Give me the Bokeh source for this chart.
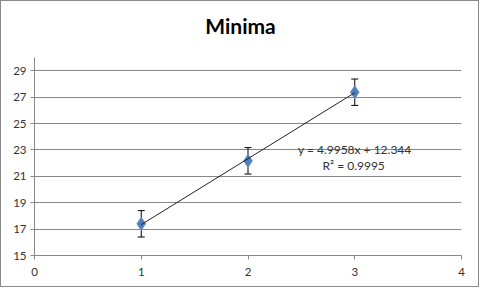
from bokeh.plotting import figure
from bokeh.models import Range1d, FixedTicker, Whisker, ColumnDataSource, Label, TeeHead
from bokeh.embed import file_html
from bokeh.resources import INLINE

# Data
x_vals = [1, 2, 3]
y_vals = [17.4, 22.17, 27.37]
y_err = [1.0, 1.0, 1.0]
slope = 4.9958
intercept = 12.344
x_ticks = [0, 1, 2, 3, 4]
y_ticks = [15, 17, 19, 21, 23, 25, 27, 29]
title_text = "Minima"
eq_text = "y = 4.9958x + 12.344"
r2_text = "R\u00b2 = 0.9995"

FONT = "Lato"
GRID = "#878787"

# the frame extends up to the top of the canvas so the title can sit inside it;
# the y axis line is bounded to the 15..30 value span
p = figure(width=479, height=287, output_backend="svg", toolbar_location=None,
           x_range=Range1d(0, 4), y_range=Range1d(15, 15 + 254 / 13.2),
           min_border_left=33, min_border_right=19, min_border_top=0, min_border_bottom=33)
p.styles = {"border": "1px solid #8a8a8a"}
p.outline_line_color = None
p.background_fill_color = "white"
p.border_fill_color = "white"

for ax in (p.xaxis[0], p.yaxis[0]):
    ax.axis_line_color = GRID
    ax.major_tick_line_color = GRID
    ax.major_tick_out = 4
    ax.major_tick_in = 0
    ax.minor_tick_line_color = None
    ax.major_label_text_font = FONT
    ax.major_label_text_font_size = "11.5px"
    ax.major_label_text_color = "#333333"

p.yaxis.bounds = (15, 30)
p.xaxis.ticker = FixedTicker(ticks=x_ticks)
p.yaxis.ticker = FixedTicker(ticks=y_ticks)
p.xaxis.major_label_standoff = 8
p.yaxis.major_label_standoff = 4

p.xgrid.grid_line_color = None
p.ygrid.ticker = FixedTicker(ticks=y_ticks)
p.ygrid.grid_line_color = GRID
p.ygrid.grid_line_width = 1

src = ColumnDataSource(dict(
    x=x_vals, y=y_vals,
    lo=[v - e for v, e in zip(y_vals, y_err)],
    hi=[v + e for v, e in zip(y_vals, y_err)],
))

w = Whisker(source=src, base="x", lower="lo", upper="hi", line_color="black", line_width=1,
            upper_head=TeeHead(size=7, line_color="black", line_width=1),
            lower_head=TeeHead(size=7, line_color="black", line_width=1))
p.add_layout(w)

p.scatter("x", "y", source=src, marker="diamond", size=13, fill_color="#4a7ebb",
          line_color="#6f93c2", line_width=1)

tx = [min(x_vals), max(x_vals)]
ty = [slope * t + intercept for t in tx]
p.line(tx, ty, line_color="#222222", line_width=1)

p.add_layout(Label(x=3.0, y=23.05, text=eq_text, text_font=FONT, text_font_size="12px",
                   text_color="#333333", text_align="center", text_baseline="middle"))
p.add_layout(Label(x=2.99, y=21.85, text=r2_text, text_font=FONT, text_font_size="12px",
                   text_color="#333333", text_align="center", text_baseline="middle"))

# Chart title
p.add_layout(Label(x=1.93, y=32.45, text=title_text, text_font=FONT, text_font_style="bold",
                   text_font_size="21px", text_color="black",
                   text_align="center", text_baseline="middle"))

open("out.html", "w").write(file_html(p, INLINE))
